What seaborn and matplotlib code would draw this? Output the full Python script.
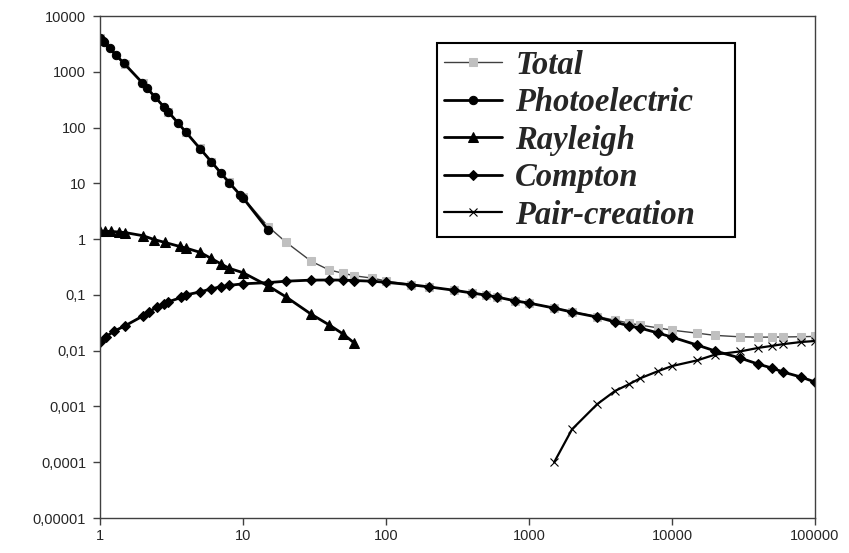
import numpy as np
import pandas as pd
import matplotlib
matplotlib.use("Agg")
import matplotlib.pyplot as plt
import seaborn as sns

## photon energy (keV) and attenuation coefficients (cm2/g)
total_e = [1, 1.5, 2, 3, 4, 5, 6, 8, 10, 15, 20, 30, 40, 50, 60, 80, 100, 150, 200,
           300, 400, 500, 600, 800, 1000, 1500, 2000, 3000, 4000, 5000, 6000, 8000,
           10000, 15000, 20000, 30000, 40000, 50000, 60000, 80000, 100000]
total_v = [4080, 1376, 617, 193, 83, 42.6, 24.6, 10.4, 5.6, 1.67, 0.88, 0.40, 0.28,
           0.245, 0.22, 0.20, 0.178, 0.153, 0.139, 0.121, 0.108, 0.099, 0.0916,
           0.0782, 0.0715, 0.0583, 0.0497, 0.0408, 0.0352, 0.0312, 0.0287, 0.0256,
           0.0233, 0.0206, 0.0188, 0.0177, 0.0175, 0.0175, 0.0176, 0.0178, 0.0180]

photo_e = [1, 1.05, 1.07, 1.17, 1.29, 1.47, 1.97, 2.13, 2.42, 2.8, 3, 3.5, 4, 5, 6,
           7, 8, 9.5, 10, 15]
photo_v = [4080, 3560, 3380, 2640, 2000, 1420, 640, 510, 355, 235, 192, 122, 82, 42,
           24.5, 15.3, 10.3, 6.3, 5.5, 1.45]

rayl_e = [1, 1.08, 1.2, 1.35, 1.5, 2, 2.4, 2.85, 3.6, 4, 5, 6, 7, 8, 10, 15, 20, 30,
          40, 50, 60]
rayl_v = [1.39, 1.38, 1.37, 1.34, 1.31, 1.15, 0.98, 0.87, 0.74, 0.69, 0.58, 0.45,
          0.36, 0.30, 0.25, 0.145, 0.092, 0.045, 0.029, 0.020, 0.0137]

compt_e = [1, 1.1, 1.25, 1.5, 2, 2.2, 2.5, 2.8, 3, 3.7, 4, 5, 6, 7, 8, 10, 15, 20, 30,
           40, 50, 60, 80, 100, 150, 200, 300, 400, 500, 600, 800, 1000, 1500, 2000,
           3000, 4000, 5000, 6000, 8000, 10000, 15000, 20000, 30000, 40000, 50000,
           60000, 80000, 100000]
compt_v = [0.0143, 0.0178, 0.0222, 0.028, 0.042, 0.05, 0.06, 0.068, 0.075, 0.09, 0.1,
           0.113, 0.128, 0.14, 0.148, 0.158, 0.166, 0.176, 0.184, 0.185, 0.184, 0.181,
           0.176, 0.168, 0.152, 0.139, 0.121, 0.108, 0.099, 0.0914, 0.078, 0.0713,
           0.058, 0.0492, 0.040, 0.0326, 0.0278, 0.0254, 0.0207, 0.0175, 0.0126,
           0.0099, 0.00736, 0.00575, 0.00488, 0.00413, 0.00336, 0.00274]

pair_e = [1500, 2000, 3000, 4000, 5000, 6000, 8000, 10000, 15000, 20000, 30000, 40000,
          50000, 60000, 80000, 100000]
pair_v = [0.0001, 0.00039, 0.0011, 0.0019, 0.0025, 0.0032, 0.0043, 0.0053, 0.0067,
          0.0085, 0.0097, 0.0112, 0.0122, 0.0131, 0.0143, 0.0149]

yticks = [1e-5, 1e-4, 1e-3, 1e-2, 1e-1, 1, 10, 100, 1000, 10000]
ylabels = ["0,00001", "0,0001", "0,001", "0,01", "0,1", "1", "10", "100", "1000", "10000"]
xticks = [1, 10, 100, 1000, 10000, 100000]
xlabels = ["1", "10", "100", "1000", "10000", "100000"]

sns.set_style("white")
plt.rcParams['font.family'] = ['Liberation Sans', 'DejaVu Sans']

fig = plt.figure(figsize=(8.49, 5.53), dpi=100)
ax = fig.add_axes([100/849, 35/553, 715/849, 502/553])

sns.lineplot(x=total_e, y=total_v, ax=ax, color="#404040", lw=1, marker="s",
             markersize=6, markerfacecolor="#c0c0c0", markeredgecolor="#c0c0c0",
             label="Total")
sns.lineplot(x=photo_e, y=photo_v, ax=ax, color="black", lw=2, marker="o",
             markersize=6, markerfacecolor="black", markeredgecolor="black",
             label="Photoelectric")
sns.lineplot(x=rayl_e, y=rayl_v, ax=ax, color="black", lw=2, marker="^",
             markersize=7, markerfacecolor="black", markeredgecolor="black",
             label="Rayleigh")
sns.lineplot(x=compt_e, y=compt_v, ax=ax, color="black", lw=2, marker="D",
             markersize=4.8, markerfacecolor="black", markeredgecolor="black",
             label="Compton")
sns.lineplot(x=pair_e, y=pair_v, ax=ax, color="black", lw=1.6, marker="x",
             markersize=5.5, markeredgewidth=0.8, markeredgecolor="black",
             label="Pair-creation")

ax.set_xscale("log")
ax.set_yscale("log")
ax.set_xlim(1, 100000)
ax.set_ylim(1e-5, 1e4)
ax.set_xticks(xticks)
ax.set_xticklabels(xlabels)
ax.set_yticks(yticks)
ax.set_yticklabels(ylabels)
ax.minorticks_off()
ax.tick_params(axis="both", which="major", direction="out", length=5, width=1,
               color="#404040", labelsize=10.5, bottom=True, left=True)
ax.tick_params(axis="x", pad=3)
ax.tick_params(axis="y", pad=5)
for s in ax.spines.values():
    s.set_color("#404040")
    s.set_linewidth(1)
ax.set_xlabel("")
ax.set_ylabel("")

# legend box spans x 437-735, y 43-241 px in the reference
lx0 = (437 - 100) / 715
lw = (735 - 437) / 715
ly1 = (518 - 43) / 502
ly0 = (518 - 241) / 502
leg = ax.legend(loc="upper left", bbox_to_anchor=(lx0, ly0, lw, ly1 - ly0),
                mode="expand", borderaxespad=0, frameon=True, fancybox=False,
                framealpha=1, edgecolor="black", numpoints=1, handlelength=1.8,
                handletextpad=0.4, labelspacing=0.2, borderpad=0.2,
                prop={"family": "Liberation Serif", "weight": "bold",
                      "style": "italic", "size": 23.5})
leg.get_frame().set_linewidth(1.5)

fig.savefig("out.png", dpi=100)
